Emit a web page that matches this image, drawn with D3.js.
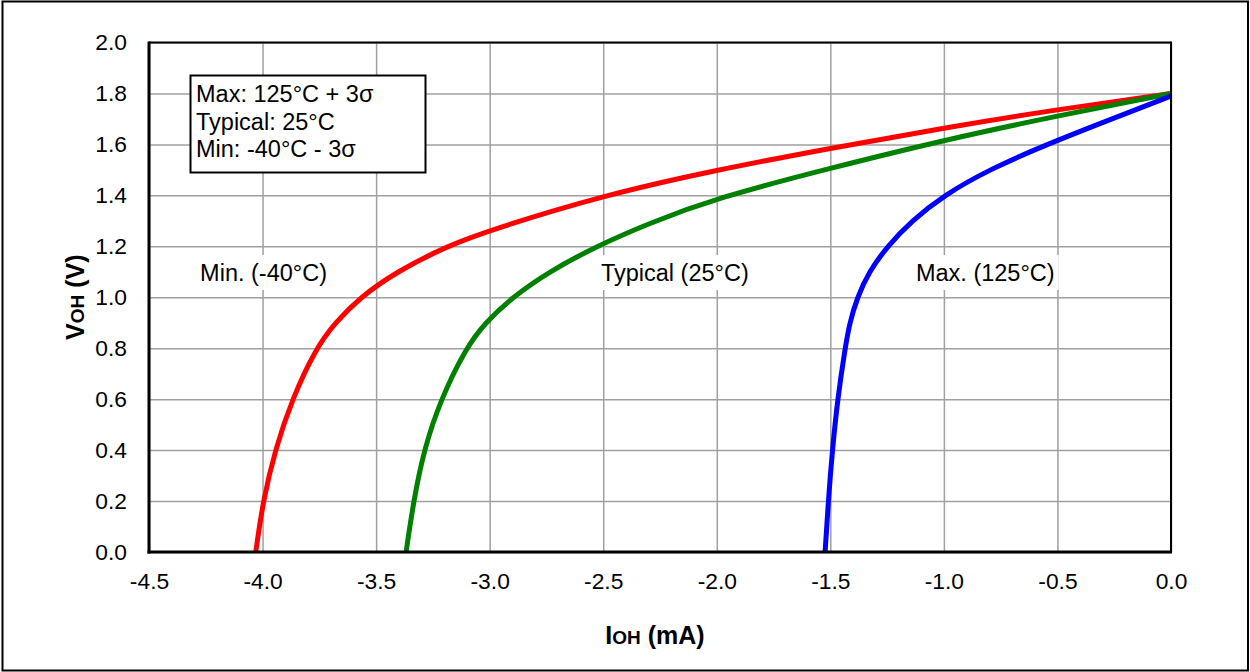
<!DOCTYPE html>
<html>
<head>
<meta charset="utf-8">
<script src="https://cdn.jsdelivr.net/npm/d3@7"></script>
<style>
  html, body { margin: 0; padding: 0; background: #fff; }
  svg { display: block; font-family: "Liberation Sans", Arial, sans-serif; }
</style>
</head>
<body>
<svg id="chart" width="1250" height="672"></svg>
<script>
// ---- data ----
const xTicks = [-4.5, -4.0, -3.5, -3.0, -2.5, -2.0, -1.5, -1.0, -0.5, 0.0];
const yTicks = [0.0, 0.2, 0.4, 0.6, 0.8, 1.0, 1.2, 1.4, 1.6, 1.8, 2.0];

// Min. (-40°C) : IOH (mA) and VOH (V)
const minCurveI = [-4.03, -3.998, -3.945, -3.87, -3.765, -3.68, -3.57, -3.41, -3.19, -3.00, -2.50, -2.00, -1.50, -1.00, -0.50, 0.00];
const minCurveV = [0.00, 0.20, 0.40, 0.60, 0.80, 0.90, 1.00, 1.10, 1.20, 1.263, 1.40, 1.50, 1.585, 1.665, 1.737, 1.80];
// Typical (25°C)
const typCurveI = [-3.368, -3.335, -3.29, -3.215, -3.105, -3.02, -2.90, -2.74, -2.53, -2.30, -2.00, -1.50, -1.00, -0.50, 0.00];
const typCurveV = [0.00, 0.20, 0.40, 0.60, 0.80, 0.90, 1.00, 1.10, 1.20, 1.29, 1.39, 1.507, 1.617, 1.712, 1.80];
// Max. (125°C)
const maxCurveI = [-1.523, -1.509, -1.491, -1.468, -1.435, -1.415, -1.381, -1.33, -1.249, -1.142, -1.00, -0.804, -0.547, -0.261, 0.00];
const maxCurveV = [0.00, 0.20, 0.40, 0.60, 0.80, 0.90, 1.00, 1.10, 1.20, 1.30, 1.40, 1.50, 1.60, 1.70, 1.79];

const seriesNames = ["Min. (-40°C)", "Typical (25°C)", "Max. (125°C)"];
const seriesColors = ["#ff0000", "#008000", "#0000ff"];
const legendLines = ["Max: 125°C + 3σ", "Typical: 25°C", "Min: -40°C - 3σ"];

// ---- layout ----
const svg = d3.select("#chart");
const pL = 149, pR = 1171, pT = 42.5, pB = 552;
const W = pR - pL, H = pB - pT;

const x = d3.scaleLinear().domain([-4.5, 0]).range([pL, pR]);
const y = d3.scaleLinear().domain([0, 2]).range([pB, pT]);

// outer border
svg.append("rect").attr("x", 2.5).attr("y", 1.5).attr("width", 1245.5).attr("height", 669)
  .attr("fill", "none").attr("stroke", "#000").attr("stroke-width", 2);

// gridlines
const gx = svg.append("g").attr("transform", `translate(0,${pB})`)
  .call(d3.axisBottom(x).tickValues(xTicks).tickSize(-H).tickFormat(""));
const gy = svg.append("g").attr("transform", `translate(${pL},0)`)
  .call(d3.axisLeft(y).tickValues(yTicks).tickSize(-W).tickFormat(""));
[gx, gy].forEach(g => {
  g.select(".domain").remove();
  g.selectAll(".tick line").attr("stroke", "#a0a0a0").attr("stroke-width", 1.5);
});

// curves
const series = [
  d3.zip(minCurveI, minCurveV),
  d3.zip(typCurveI, typCurveV),
  d3.zip(maxCurveI, maxCurveV)
];
const line = d3.line().x(d => x(d[0])).y(d => y(d[1])).curve(d3.curveBasis);
series.forEach((s, i) => {
  svg.append("path").datum(s).attr("d", line)
    .attr("fill", "none").attr("stroke", seriesColors[i]).attr("stroke-width", 5)
    .attr("stroke-linejoin", "round");
});

// curve labels
const labelPos = [[-4.275, 1.12], [-2.51, 1.12], [-1.123, 1.12]];
seriesNames.forEach((name, i) => {
  const tx = x(labelPos[i][0]);
  const t = svg.append("text").attr("x", tx).attr("y", 281).attr("font-size", 23.5).attr("fill", "#000").text(name);
  const bb = t.node().getBBox();
  svg.insert("rect", () => t.node()).attr("x", bb.x - 4).attr("y", 255).attr("width", bb.width + 8).attr("height", 35).attr("fill", "#fff");
});

// legend box
svg.append("rect").attr("x", 190.5).attr("y", 75.5).attr("width", 235).attr("height", 97)
  .attr("fill", "#fff").attr("stroke", "#000").attr("stroke-width", 2);
legendLines.forEach((t, i) => {
  svg.append("text").attr("x", 196).attr("y", 102 + i * 27.5).attr("font-size", 23.5).text(t);
});

// tick labels
const fmt = d => d.toFixed(1);
const ax = svg.append("g").attr("transform", `translate(0,${pB})`)
  .call(d3.axisBottom(x).tickValues(xTicks).tickSize(0).tickPadding(21).tickFormat(fmt));
const ay = svg.append("g").attr("transform", `translate(${pL},0)`)
  .call(d3.axisLeft(y).tickValues(yTicks).tickSize(0).tickPadding(22).tickFormat(fmt));
[ax, ay].forEach(g => {
  g.select(".domain").remove();
  g.selectAll("text").attr("font-size", 22.8).attr("font-family", "Liberation Sans, Arial, sans-serif").attr("fill", "#000");
});
ax.selectAll("text").attr("dy", "0.71em");

// frame
svg.append("line").attr("x1", pL).attr("x2", pR).attr("y1", pT).attr("y2", pT).attr("stroke", "#000").attr("stroke-width", 2);
svg.append("line").attr("x1", pR).attr("x2", pR).attr("y1", pT - 1).attr("y2", pB).attr("stroke", "#000").attr("stroke-width", 2);
svg.append("line").attr("x1", pL).attr("x2", pL).attr("y1", pT - 1).attr("y2", pB + 1.5).attr("stroke", "#000").attr("stroke-width", 3);
svg.append("line").attr("x1", pL - 1.5).attr("x2", pR + 1).attr("y1", pB).attr("y2", pB).attr("stroke", "#000").attr("stroke-width", 3);

// axis titles
const xt = svg.append("text").attr("x", 655).attr("y", 644).attr("text-anchor", "middle")
  .attr("font-size", 25).attr("font-weight", "bold");
xt.append("tspan").text("I");
xt.append("tspan").attr("font-size", 19).text("OH");
xt.append("tspan").text(" (mA)");

const yt = svg.append("text").attr("transform", `translate(84,${(pT + pB) / 2}) rotate(-90)`)
  .attr("text-anchor", "middle").attr("font-size", 25).attr("font-weight", "bold");
yt.append("tspan").text("V");
yt.append("tspan").attr("font-size", 19).text("OH");
yt.append("tspan").text(" (V)");
</script>
</body>
</html>
